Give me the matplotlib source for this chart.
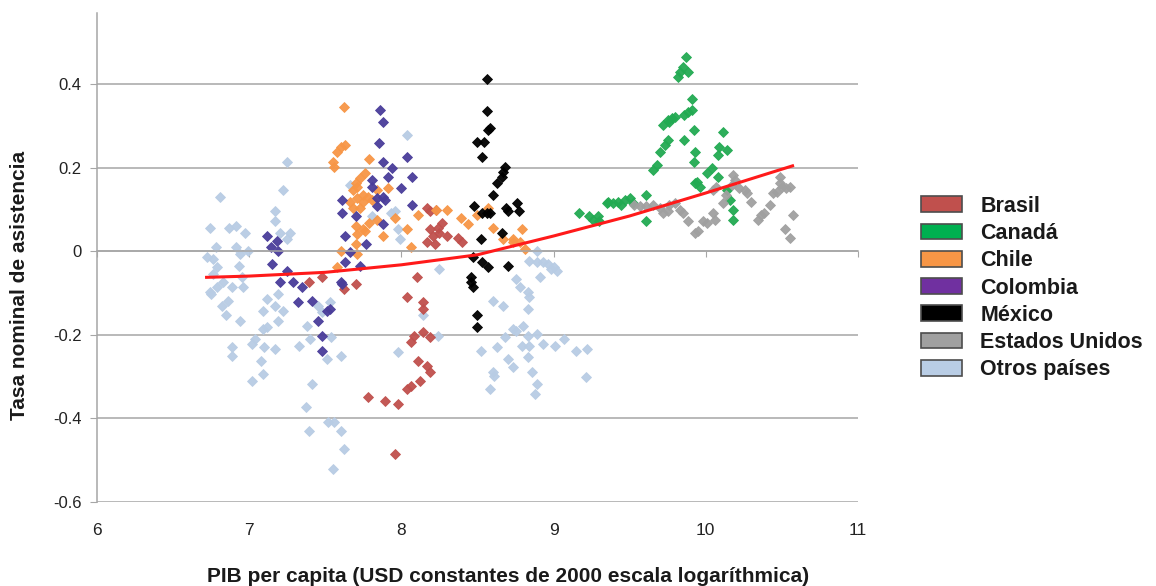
import numpy as np
import matplotlib.pyplot as plt
import matplotlib as mpl
from matplotlib.patches import Patch

OUTPUT = "out.png"

# -- Data (log GDP per capita, nominal attendance rate) --
otros_x = [8.04, 7.25, 7.22, 6.81, 7.17, 7.17, 6.74, 6.87, 6.91, 6.97, 7.20, 7.27, 7.25,
           6.78, 6.91, 6.99, 6.94, 6.76, 6.93, 6.95, 6.76, 6.79, 6.75, 6.83, 6.74, 6.89,
           6.96, 6.86, 6.82, 6.85, 6.94, 7.09, 7.17, 7.22, 7.19, 7.19, 7.09, 7.12, 7.04,
           7.02, 7.10, 7.17, 6.89, 6.89, 7.08, 7.09, 7.02, 7.38, 7.33, 7.40, 7.45, 7.53,
           7.48, 7.41, 7.37, 7.39, 7.52, 7.56, 7.60, 7.62, 7.55, 7.60, 7.54, 7.51, 7.98,
           8.25, 8.24, 8.14, 7.81, 7.93, 7.98, 7.96, 7.99, 7.66, 6.72, 6.79, 7.12,
           8.89, 8.84, 8.89, 8.93, 8.96, 9.00, 9.02, 8.91, 8.98, 8.75, 8.78, 8.83, 8.84,
           8.83, 8.60, 8.67, 8.80, 8.75, 8.83, 8.89, 8.68, 8.63, 8.52, 8.79, 8.84, 8.93,
           9.01, 9.07, 9.15, 9.22, 8.70, 8.73, 8.83, 8.86, 8.60, 8.61, 9.21, 8.89, 8.58,
           8.88, 8.73]
otros_y = [0.280, 0.215, 0.148, 0.131, 0.098, 0.072, 0.055, 0.057, 0.060, 0.045, 0.045,
           0.045, 0.029, 0.010, 0.010, 0.000, -0.007, -0.019, -0.036, -0.060, -0.055,
           -0.084, -0.103, -0.074, -0.098, -0.086, -0.086, -0.119, -0.131, -0.151, -0.167,
           -0.143, -0.131, -0.143, -0.167, -0.103, -0.186, -0.182, -0.210, -0.222, -0.229,
           -0.234, -0.229, -0.251, -0.263, -0.294, -0.311, -0.179, -0.227, -0.210, -0.131,
           -0.122, -0.146, -0.318, -0.373, -0.430, -0.409, -0.409, -0.430, -0.473, -0.521,
           -0.251, -0.205, -0.258, -0.241, -0.043, -0.203, -0.151, 0.084, 0.093, 0.053,
           0.096, 0.029, 0.160, -0.014, -0.038, -0.115,
           0.000, -0.024, -0.026, -0.026, -0.031, -0.038, -0.048, -0.060, -0.043, -0.067,
           -0.086, -0.098, -0.110, -0.139, -0.119, -0.131, -0.179, -0.191, -0.203, -0.198,
           -0.205, -0.229, -0.239, -0.227, -0.227, -0.222, -0.227, -0.210, -0.239, -0.234,
           -0.258, -0.277, -0.253, -0.289, -0.289, -0.299, -0.301, -0.318, -0.330, -0.342,
           -0.186]

chile_x = [7.62, 7.60, 7.63, 7.58, 7.55, 7.56, 7.79, 7.76, 7.73, 7.70, 7.68, 7.71, 7.75,
           7.71, 7.78, 7.66, 7.75, 7.68, 7.73, 7.91, 7.84, 7.81, 7.84, 7.79, 7.75, 7.71,
           7.96, 7.88, 8.04, 8.11, 8.06, 7.70, 7.60, 7.71, 7.58, 7.70, 7.76, 8.23, 8.30,
           8.39, 8.44, 8.50, 8.57, 8.60, 8.67, 8.73, 8.79, 8.78, 8.81, 8.73]
chile_y = [0.346, 0.251, 0.256, 0.237, 0.213, 0.203, 0.222, 0.189, 0.177, 0.165, 0.148,
           0.155, 0.136, 0.129, 0.131, 0.119, 0.119, 0.105, 0.105, 0.153, 0.148, 0.124,
           0.076, 0.069, 0.053, 0.041, 0.081, 0.036, 0.053, 0.088, 0.010, 0.017, 0.000,
           -0.007, -0.038, 0.060, 0.048, 0.100, 0.100, 0.081, 0.065, 0.088, 0.105, 0.057,
           0.029, 0.029, 0.053, 0.022, 0.005, 0.022]

colombia_x = [7.86, 7.88, 7.85, 8.04, 8.07, 7.88, 7.94, 7.91, 7.81, 7.81, 8.00, 7.88, 7.84,
              7.89, 7.84, 8.07, 7.61, 7.61, 7.70, 7.88, 7.63, 7.77, 7.66, 7.63, 7.73, 7.60,
              7.12, 7.18, 7.14, 7.19, 7.15, 7.25, 7.20, 7.29, 7.35, 7.32, 7.41, 7.45, 7.51,
              7.48, 7.48, 7.61, 7.53]
colombia_y = [0.339, 0.311, 0.260, 0.225, 0.179, 0.213, 0.201, 0.179, 0.172, 0.155, 0.153,
              0.131, 0.129, 0.124, 0.108, 0.112, 0.124, 0.093, 0.084, 0.065, 0.036, 0.017,
              -0.002, -0.026, -0.036, -0.074, 0.036, 0.024, 0.010, 0.000, -0.031, -0.048,
              -0.074, -0.072, -0.086, -0.122, -0.119, -0.167, -0.143, -0.203, -0.239,
              -0.079, -0.139]

brasil_x = [8.17, 8.23, 8.19, 8.27, 8.21, 8.30, 8.37, 8.40, 8.17, 8.25, 8.22, 8.24, 8.19,
            8.10, 8.04, 8.14, 8.14, 8.08, 8.14, 8.19, 8.06, 8.11, 8.17, 8.19, 8.12, 8.06,
            8.04, 7.78, 7.89, 7.98, 7.96, 7.62, 7.70, 7.39, 7.48]
brasil_y = [0.105, 0.100, 0.053, 0.069, 0.036, 0.036, 0.033, 0.022, 0.022, 0.045, 0.017,
            0.057, 0.096, -0.062, -0.108, -0.122, -0.139, -0.203, -0.194, -0.205, -0.217,
            -0.263, -0.275, -0.289, -0.311, -0.323, -0.330, -0.349, -0.358, -0.366,
            -0.485, -0.091, -0.079, -0.074, -0.062]

mexico_x = [8.56, 8.56, 8.58, 8.57, 8.50, 8.54, 8.53, 8.68, 8.67, 8.66, 8.63, 8.60, 8.48,
            8.56, 8.53, 8.58, 8.69, 8.76, 8.77, 8.70, 8.66, 8.52, 8.47, 8.53, 8.57, 8.70,
            8.46, 8.46, 8.47, 8.50, 8.50]
mexico_y = [0.413, 0.337, 0.296, 0.292, 0.263, 0.263, 0.225, 0.203, 0.191, 0.179, 0.165,
            0.136, 0.108, 0.093, 0.093, 0.093, 0.105, 0.117, 0.096, 0.096, 0.045, 0.029,
            -0.014, -0.026, -0.038, -0.036, -0.060, -0.072, -0.084, -0.151, -0.182]

canada_x = [9.87, 9.85, 9.83, 9.82, 9.88, 9.91, 9.91, 9.86, 9.88, 9.78, 9.75, 9.72, 9.76,
            9.80, 9.92, 9.86, 10.11, 9.75, 9.73, 9.70, 9.93, 9.92, 10.09, 10.08, 10.14,
            9.68, 9.65, 10.04, 10.01, 10.08, 9.94, 9.96, 9.93, 10.14, 10.16, 10.18, 10.18,
            9.61, 9.61, 9.36, 9.39, 9.42, 9.47, 9.50, 9.52, 9.35, 9.44, 9.17, 9.23, 9.26,
            9.30, 9.29]
canada_y = [0.466, 0.442, 0.430, 0.418, 0.430, 0.366, 0.339, 0.327, 0.335, 0.320, 0.315,
            0.303, 0.311, 0.323, 0.292, 0.268, 0.287, 0.268, 0.256, 0.239, 0.239, 0.215,
            0.251, 0.232, 0.244, 0.208, 0.196, 0.201, 0.189, 0.179, 0.167, 0.155, 0.165,
            0.148, 0.124, 0.100, 0.076, 0.134, 0.072, 0.119, 0.117, 0.119, 0.124, 0.129,
            0.117, 0.117, 0.112, 0.093, 0.084, 0.076, 0.072, 0.084]

usa_x = [9.53, 9.57, 9.61, 9.65, 9.70, 9.76, 9.80, 9.83, 9.85, 9.88, 9.72, 9.75, 9.93,
         9.95, 9.98, 10.01, 10.05, 10.06, 10.05, 10.07, 10.11, 10.13, 10.18, 10.19, 10.17,
         10.22, 10.26, 10.27, 10.30, 10.34, 10.36, 10.38, 10.42, 10.44, 10.47, 10.50,
         10.53, 10.49, 10.55, 10.49, 10.57, 10.52, 10.55]
usa_y = [0.112, 0.108, 0.108, 0.112, 0.105, 0.112, 0.117, 0.100, 0.093, 0.072, 0.093,
         0.096, 0.045, 0.048, 0.072, 0.069, 0.093, 0.076, 0.148, 0.155, 0.117, 0.136,
         0.184, 0.172, 0.160, 0.153, 0.148, 0.141, 0.119, 0.076, 0.088, 0.093, 0.112,
         0.141, 0.143, 0.155, 0.153, 0.179, 0.155, 0.165, 0.088, 0.053, 0.033]

# polynomial trend line as drawn in the reference
trend_x = [6.72, 7.0, 7.5, 8.0, 8.5, 9.0, 9.5, 10.0, 10.57]
trend_y = [-0.062, -0.059, -0.050, -0.032, -0.008, 0.037, 0.085, 0.140, 0.205]

series = [
    ("Otros países", otros_x, otros_y, "#b8cce4", "#b9cde5"),
    ("Brasil", brasil_x, brasil_y, "#c0504d", "#c0504d"),
    ("Chile", chile_x, chile_y, "#f79646", "#f79646"),
    ("Colombia", colombia_x, colombia_y, "#4a3d9a", "#7030a0"),
    ("México", mexico_x, mexico_y, "#000000", "#000000"),
    ("Canadá", canada_x, canada_y, "#22aa52", "#00b050"),
    ("Estados Unidos", usa_x, usa_y, "#a0a0a0", "#a0a0a0"),
]
legend_order = ["Brasil", "Canadá", "Chile", "Colombia", "México",
                "Estados Unidos", "Otros países"]

mpl.rcParams.update({
    "font.family": ["Liberation Sans", "DejaVu Sans"],
    "font.size": 10,
})

fig = plt.figure(figsize=(11.56, 5.86), dpi=100)
ax = fig.add_axes([97 / 1156, 1 - 502 / 586, (858 - 97) / 1156, (502 - 13) / 586])

grid_c = "#a6a6a6"
for yv in [-0.6, -0.4, -0.2, 0.0, 0.2, 0.4]:
    ax.axhline(yv, color=grid_c, lw=1.1, zorder=0)

for name, xs, ys, mc, _ in series:
    ax.plot(xs, ys, ls="none", marker="D", ms=5.4, mfc=mc, mec=mc, mew=0.6,
            alpha=0.95, zorder=2)

ax.plot(trend_x, trend_y, color="#ff1a1a", lw=2.2, zorder=3)

ax.set_xlim(6, 11)
ax.set_ylim(-0.6, 0.571)

# x axis crosses at y=0 with small tick marks, labels sit at the bottom
for s in ["top", "right"]:
    ax.spines[s].set_visible(False)
ax.spines["bottom"].set_position(("data", 0))
ax.spines["bottom"].set_color(grid_c)
ax.spines["left"].set_color(grid_c)
ax.spines["left"].set_linewidth(1.1)
ax.spines["bottom"].set_linewidth(1.1)
ax.set_xticks([6, 7, 8, 9, 10, 11])
ax.tick_params(axis="x", direction="out", length=4, color=grid_c, labelbottom=False)
ax.set_yticks([-0.6, -0.4, -0.2, 0.0, 0.2, 0.4])
ax.set_yticklabels(["-0.6", "-0.4", "-0.2", "0", "0.2", "0.4"])
ax.tick_params(axis="y", direction="out", length=5, color=grid_c, labelsize=12,
               labelcolor="#222222", pad=6)

sec = ax.secondary_xaxis(0)
sec.set_xticks([6, 7, 8, 9, 10, 11])
sec.tick_params(length=0, pad=15, labelsize=12.5, labelcolor="#222222")
sec.spines["bottom"].set_visible(False)

fig.text(508 / 1156, 1 - 576 / 586, "PIB per capita (USD constantes de 2000 escala logaríthmica)",
         ha="center", va="center", fontsize=15, fontweight="bold", color="#1a1a1a")
fig.text(20 / 1156, 1 - 285 / 586, "Tasa nominal de asistencia", rotation=90,
         ha="center", va="center", fontsize=15, fontweight="bold", color="#1a1a1a")

leg_colors = {name: lc for name, _, _, _, lc in series}
handles = [Patch(facecolor=leg_colors[n], edgecolor="#4d4d4d", lw=1.2, label=n)
           for n in legend_order]
leg = fig.legend(handles=handles, loc="center left",
                 bbox_to_anchor=(902 / 1156, 1 - 288 / 586), frameon=False,
                 prop={"size": 15.5, "weight": "bold"}, handlelength=1.9,
                 handleheight=0.75, labelspacing=0.29, handletextpad=0.84)
for t in leg.get_texts():
    t.set_color("#1a1a1a")

fig.savefig(OUTPUT, dpi=100)
